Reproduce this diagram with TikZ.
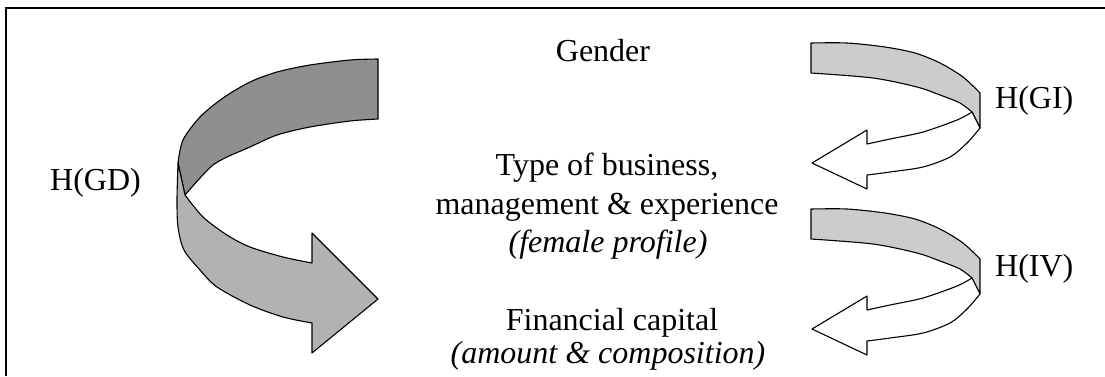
\documentclass[tikz,border=0pt]{standalone}
\usepackage{fontspec}
\setmainfont{Liberation Serif}
\begin{document}
\begin{tikzpicture}[x=1pt,y=-1pt,
  lbl/.style={inner sep=0pt,font=\fontsize{32}{38}\selectfont},
  ribbon/.style={draw=black,line width=1.1pt,line join=round},
  darkband/.style={ribbon,fill=black!44},
  lightband/.style={ribbon,fill=black!30},
  smallband/.style={ribbon,fill=black!20},
  whiteband/.style={ribbon,fill=white}]
\useasboundingbox (0,0) rectangle (1105,376);
% frame (only top and left edges visible)
\draw[line width=2pt] (6,376) -- (6,8) -- (1105,8);

% big left ribbon arrow H(GD)
\path[darkband] plot[smooth] coordinates {(378,59) (350,60) (310,65) (277,72) (250,82) (223,98) (200,117) (183,140) (178,163)}
  -- (185,195)
  -- plot[smooth] coordinates {(185,195) (200,178) (213,165) (227,157) (250,147) (277,135) (310,127) (350,121) (378,119)}
  -- cycle;
\path[lightband] plot[smooth] coordinates {(178,163) (177,200) (178,227) (184,250) (200,270) (217,287) (250,305) (283,317) (312,323)}
  -- (312,353) -- (378,299) -- (312,233) -- (312,263)
  -- plot[smooth] coordinates {(312,263) (283,257) (250,247) (227,235) (203,217) (185,195)}
  -- cycle;

% small ribbon arrows H(GI) and H(IV)
\newcommand\drawribbon[1]{%
  \begin{scope}[shift={(0,#1)}]
  \path[smallband] plot[smooth] coordinates {(811,43) (847,43) (885,47) (915,53) (940,63) (963,77) (980,93)}
    -- (980,128) -- (972,112)
    -- plot[smooth] coordinates {(972,112) (960,103) (940,95) (917,87) (873,78) (811,73)}
    -- cycle;
  \path[whiteband] plot[smooth] coordinates {(972,112) (957,120) (923,132) (890,139) (867,144)}
    -- (867,130) -- (812,163) -- (867,189) -- (867,175)
    -- plot[smooth] coordinates {(867,175) (890,172) (923,167) (950,157) (967,143) (980,128)}
    -- cycle;
  \end{scope}}
\drawribbon{0}
\drawribbon{166}

% texts
\node[lbl,anchor=base] (gender) at (603,61) {Gender};
\node[lbl,anchor=base] (type1) at (607,175) {Type of business,};
\node[lbl,anchor=base] (type2) at (607,214) {management \& experience};
\node[lbl,anchor=base] (type3) at (608,252) {\textit{(female profile)}};
\node[lbl,anchor=base] (fin1) at (612,330) {Financial capital};
\node[lbl,anchor=base] (fin2) at (608,363) {\textit{(amount \& composition)}};
\node[lbl,anchor=base west] (hgi) at (995,108) {H(GI)};
\node[lbl,anchor=base west] (hiv) at (995,276) {H(IV)};
\node[lbl,anchor=base west] (hgd) at (50,190) {H(GD)};
\end{tikzpicture}
\end{document}
